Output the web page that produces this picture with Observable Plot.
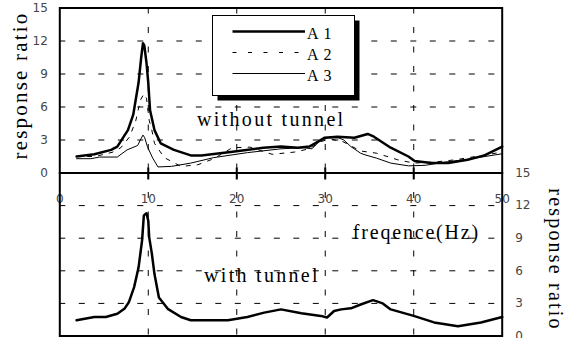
<!DOCTYPE html>
<html><head><meta charset="utf-8">
<script src="https://cdn.jsdelivr.net/npm/d3@7"></script>
<script src="https://cdn.jsdelivr.net/npm/@observablehq/plot@0.6"></script>
<style>
html,body{margin:0;padding:0;background:#fff;}
#wrap{position:relative;width:565px;height:338px;overflow:hidden;background:#fff;}
#wrap svg{position:absolute;left:0;top:0;background:transparent !important;}
</style></head><body><div id="wrap"></div>
<script>
// ---- data ----
const xTicks = [0, 10, 20, 30, 40, 50];
const yTicks = [0, 3, 6, 9, 12, 15];
const gridX = [10, 20, 30, 40];
const gridY = [3, 6, 9, 12];
const seriesNames = ["A1", "A2", "A3"];

const a1Freq = [1.9, 3.9, 5.8, 6.5, 7.7, 8.3, 8.9, 9.2, 9.4, 9.55, 9.8, 10.0, 10.2, 10.7, 11.4, 12.9, 14.8, 16, 19.3, 23, 25, 26.9, 28.2, 29.2, 29.9, 31.4, 33.3, 34.8, 35.5, 37.4, 39.4, 40.1, 42, 43.9, 46.1, 48, 50];
const a1Val  = [1.5, 1.7, 2.1, 2.4, 3.9, 5.3, 8.2, 10.5, 11.8, 11.6, 10.0, 8.2, 5.7, 3.9, 2.7, 2.1, 1.6, 1.6, 1.9, 2.3, 2.4, 2.3, 2.4, 2.85, 3.2, 3.3, 3.2, 3.55, 3.3, 2.3, 1.5, 1.1, 0.9, 0.9, 1.2, 1.6, 2.4];

const a2Freq = [1.9, 4, 6, 6.9, 7.9, 8.6, 9.1, 9.5, 9.8, 10.1, 10.4, 10.7, 11.8, 13.7, 15.6, 17.4, 19.5, 21.5, 24, 26.5, 28.2, 29.5, 30.5, 32, 34, 35.8, 38.2, 40, 42.4, 44.7, 47, 50];
const a2Val  = [1.5, 1.5, 1.9, 2.3, 3.3, 4.8, 6.6, 7.2, 6.8, 4.8, 3.9, 2.7, 1.4, 0.6, 0.75, 1.3, 2.3, 2.35, 1.7, 1.9, 2.2, 2.85, 3.1, 2.85, 2.0, 1.8, 1.2, 0.9, 1.0, 1.2, 1.5, 1.9];

const a3Freq = [1.9, 3.5, 4.5, 6.5, 7.6, 8.8, 9.1, 9.4, 9.6, 9.9, 10.5, 11.1, 12.6, 14.8, 17.4, 21.2, 25, 27.5, 28.5, 29.3, 30.3, 31.5, 32.1, 32.9, 34, 34.5, 35.8, 37.4, 39.4, 41.3, 43.2, 46.1, 50];
const a3Val  = [1.3, 1.3, 1.45, 1.45, 2.1, 2.5, 3.0, 3.45, 3.2, 2.4, 1.35, 0.55, 0.6, 0.9, 1.4, 1.85, 2.2, 2.3, 2.2, 2.85, 3.2, 3.2, 3.0, 2.4, 1.8, 1.65, 1.35, 0.9, 0.65, 0.7, 0.95, 1.25, 1.75];

const tunnelFreq = [1.9, 3.9, 5.2, 6.5, 7.3, 7.8, 8.4, 8.9, 9.3, 9.5, 9.8, 10.0, 10.1, 10.4, 10.7, 11.2, 12.2, 13.7, 14.8, 17.1, 19, 21.2, 23.1, 25, 27.3, 29.5, 30.2, 31, 31.8, 32.9, 34, 35.4, 36.5, 37.4, 40, 42.3, 45, 47.6, 50];
const tunnelVal  = [1.45, 1.75, 1.75, 2.05, 2.5, 3.1, 4.5, 6.3, 8.8, 11.1, 11.3, 10.6, 9.1, 7.6, 5.7, 3.55, 2.5, 1.75, 1.45, 1.45, 1.45, 1.75, 2.15, 2.45, 2.1, 1.85, 1.7, 2.3, 2.45, 2.55, 2.9, 3.3, 3.0, 2.45, 1.85, 1.25, 0.9, 1.25, 1.75];

// ---- layout ----
const W = 565, H = 338, ML = 59.3, MR = 63.3, TOP0 = 7.5, MID = 172.5, BOT = 335.5;
const serif = "'Liberation Serif', 'Times New Roman', serif";
const sans = "'DejaVu Sans', sans-serif";
const gridDash = "6,13.5";
const rows = (fs, vs) => fs.map((f, i) => ({f, v: vs[i]}));

const topPlot = Plot.plot({
  width: W, height: H,
  marginLeft: ML, marginRight: MR, marginTop: TOP0, marginBottom: H - MID,
  style: {background: "transparent", fontFamily: sans, fontSize: "12px", color: "#000", overflow: "visible"},
  x: {domain: [0, 50]},
  y: {domain: [0, 15]},
  marks: [
    Plot.ruleY(gridY, {stroke: "#000", strokeWidth: 1, strokeDasharray: gridDash}),
    Plot.ruleX(gridX, {stroke: "#000", strokeWidth: 1, strokeDasharray: gridDash}),
    Plot.axisY({ticks: yTicks, tickSize: 0, tickPadding: 12, fill: "#444", label: null}),
    Plot.axisX({ticks: xTicks, tickSize: 0, tickPadding: 21, fill: "#444", label: null}),
    Plot.axisX({ticks: gridX, tickSize: 7, strokeWidth: 2, tickFormat: () => "", label: null}),
    Plot.frame({stroke: "#000", strokeWidth: 2}),
    Plot.line(rows(a3Freq, a3Val), {x: "f", y: "v", stroke: "#000", strokeWidth: 1}),
    Plot.line(rows(a2Freq, a2Val), {x: "f", y: "v", stroke: "#000", strokeWidth: 1, strokeDasharray: "4,7"}),
    Plot.line(rows(a1Freq, a1Val), {x: "f", y: "v", stroke: "#000", strokeWidth: 2.5}),
    Plot.text([{f: 23.9, v: 4.25, t: "without tunnel"}], {x: "f", y: "v", text: "t", fontFamily: serif, fontSize: 20, lineAnchor: "bottom", textAnchor: "middle", fill: "#000"}),
    Plot.text(["response ratio"], {text: d => d, frameAnchor: "left", textAnchor: "middle", lineAnchor: "middle", rotate: -90, dx: -40, dy: -5, fontFamily: serif, fontSize: 21, fill: "#000"})
  ]
});

const bottomPlot = Plot.plot({
  width: W, height: H,
  marginLeft: ML, marginRight: MR, marginTop: MID, marginBottom: H - BOT,
  style: {background: "transparent", fontFamily: sans, fontSize: "12px", color: "#000", overflow: "visible"},
  x: {domain: [0, 50]},
  y: {domain: [0, 15]},
  marks: [
    Plot.ruleY(gridY, {stroke: "#000", strokeWidth: 1, strokeDasharray: gridDash}),
    Plot.ruleX(gridX, {stroke: "#000", strokeWidth: 1, strokeDasharray: gridDash}),
    Plot.axisY({anchor: "right", ticks: yTicks, tickSize: 0, tickPadding: 13, fill: "#444", label: null}),
    Plot.axisX({anchor: "top", ticks: gridX, tickSize: 6, strokeWidth: 2, tickFormat: () => "", label: null}),
    Plot.frame({stroke: "#000", strokeWidth: 2}),
    Plot.line(rows(tunnelFreq, tunnelVal), {x: "f", y: "v", stroke: "#000", strokeWidth: 2.5}),
    Plot.text([{f: 22.85, v: 5.0, t: "with tunnel"}], {x: "f", y: "v", text: "t", fontFamily: serif, fontSize: 20, lineAnchor: "bottom", textAnchor: "middle", fill: "#000"}),
    Plot.text([{f: 40.3, v: 8.9, t: "freqence(Hz)"}], {x: "f", y: "v", text: "t", fontFamily: serif, fontSize: 20, lineAnchor: "bottom", textAnchor: "middle", fill: "#000"}),
    Plot.text(["response ratio"], {text: d => d, frameAnchor: "right", textAnchor: "middle", lineAnchor: "middle", rotate: 90, dx: 53, dy: 5, fontFamily: serif, fontSize: 20, fill: "#000"})
  ]
});

const wrap = document.getElementById("wrap");
wrap.appendChild(topPlot);
wrap.appendChild(bottomPlot);

// letter spacing for the serif labels
const spacing = {"without tunnel": 2.3, "with tunnel": 2.3, "freqence(Hz)": 1.8, "response ratio": 2.2};
for (const svg of [topPlot, bottomPlot]) {
  d3.select(svg).selectAll("text").each(function () {
    const t = this.textContent;
    if (spacing[t] != null) this.setAttribute("letter-spacing", spacing[t]);
  });
}

// legend box (inside the upper panel)
const leg = d3.select(wrap).append("svg").attr("width", W).attr("height", H);
const lg = leg.append("g").attr("transform", "translate(212.5,15.5)");
lg.append("rect").attr("x", 5).attr("y", 5).attr("width", 142).attr("height", 80).attr("fill", "#000");
lg.append("rect").attr("x", 0).attr("y", 0).attr("width", 142).attr("height", 80).attr("fill", "#fff").attr("stroke", "#000").attr("stroke-width", 1);
const legStyles = [{w: 2.5, d: null}, {w: 1, d: "4,11.5"}, {w: 1, d: null}];
seriesNames.forEach((name, i) => {
  const y = 16 + i * 21;
  const s = legStyles[i];
  const ln = lg.append("line").attr("x1", 20).attr("x2", 92.5).attr("y1", y).attr("y2", y)
    .attr("stroke", "#000").attr("stroke-width", s.w);
  if (s.d) ln.attr("stroke-dasharray", s.d);
  lg.append("text").attr("x", 94.5).attr("y", y + 3.5).text(name)
    .attr("font-family", serif).attr("font-size", 16).attr("letter-spacing", 5).attr("fill", "#000")
    .attr("dominant-baseline", "middle");
});
</script></body></html>
